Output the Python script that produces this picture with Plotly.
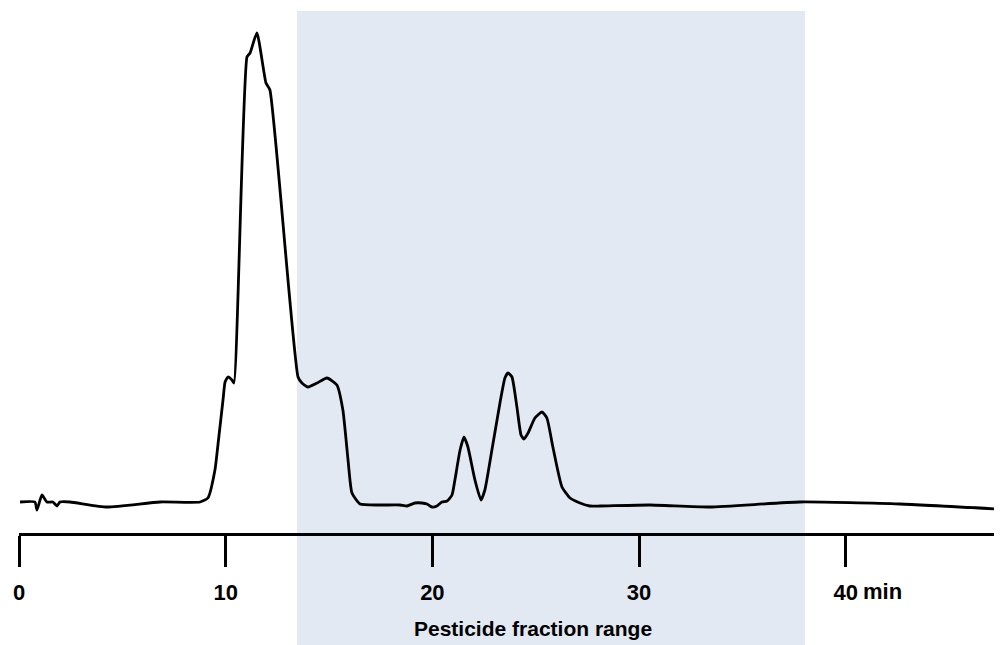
import plotly.graph_objects as go

# Retention time (min) and detector response (arbitrary units)
time_min = [0.05, 0.77, 0.87, 1.11, 1.35, 1.64, 1.84, 1.98, 2.47, 4.26, 6.82, 8.76, 9.14,
            9.48, 9.63, 9.87, 9.97, 10.11, 10.30, 10.40, 11.03, 11.18, 11.51, 11.95, 12.14,
            13.50, 13.69, 13.98, 14.42, 14.90, 15.38, 15.67, 15.92, 16.11, 16.50,
            17.46, 18.43, 18.77, 19.16, 19.50, 19.74, 19.98, 20.22, 20.46, 20.71, 20.95,
            21.09, 21.34, 21.53, 21.72, 22.06, 22.35, 22.54, 22.88, 23.27, 23.51, 23.66,
            23.85, 24.09, 24.29, 24.43, 24.63, 24.96, 25.30, 25.54, 25.83, 26.27, 26.66,
            27.14, 27.62, 28.11, 30.53, 33.43, 37.78, 42.62, 47.27]
response = [31, 31, 23, 38, 31, 31, 27, 31, 31, 26, 31, 31, 35,
            63, 89, 133, 151, 156, 153, 150, 476, 480, 500, 450, 443,
            156, 150, 146, 150, 155, 148, 123, 73, 40, 29,
            28, 28, 27, 30, 30, 29, 26, 27, 31, 32, 38,
            53, 83, 96, 86, 53, 33, 43, 83, 130, 155, 160,
            156, 126, 98, 94, 100, 115, 121, 115, 86, 46, 35,
            30, 27, 27, 28, 26, 31, 29, 24]

tick_vals = [0, 10, 20, 30, 40]
tick_text = ["0", "10", "20", "30", "40"]
unit_label = "min"

fraction_range = [13.45, 38.03]
fraction_label = "Pesticide fraction range"

x_max = 47.56
font_family = "Liberation Sans, Arial, sans-serif"

fig = go.Figure()
fig.add_trace(go.Scatter(
    x=time_min, y=response, mode="lines",
    line=dict(color="black", width=2.8, shape="spline", smoothing=0.5),
    hoverinfo="skip", showlegend=False,
))

fig.add_shape(type="rect", xref="x", yref="paper",
              x0=fraction_range[0], x1=fraction_range[1], y0=-0.3, y1=1,
              fillcolor="#E2E9F3", line=dict(width=0), layer="below")

fig.add_annotation(x=24.87, y=-0.182,
                   xref="x", yref="paper", text=fraction_label, showarrow=False,
                   font=dict(family=font_family, size=21, color="black", weight=700),
                   xanchor="center", yanchor="middle")

fig.add_annotation(x=40.73, y=-0.113, xref="x", yref="paper", text=unit_label,
                   showarrow=False, xanchor="left", yanchor="middle",
                   font=dict(family=font_family, size=22, color="black", weight=700))

fig.update_xaxes(range=[0, x_max], showgrid=False, zeroline=False,
                 showline=True, linecolor="black", linewidth=2.8,
                 ticks="outside", ticklen=31, tickwidth=2.8, tickcolor="black",
                 tickvals=tick_vals, ticktext=tick_text, ticklabelstandoff=7,
                 tickfont=dict(family=font_family, size=22, color="black", weight=700))
fig.update_yaxes(range=[0, 522], visible=False)

# the page body adds an 8 px margin, so the figure is 8 px smaller and offset
fig.update_layout(width=994, height=637,
                  margin=dict(l=11, r=0, t=3, b=112),
                  paper_bgcolor="white", plot_bgcolor="rgba(0,0,0,0)")

fig.write_html("out.html")
